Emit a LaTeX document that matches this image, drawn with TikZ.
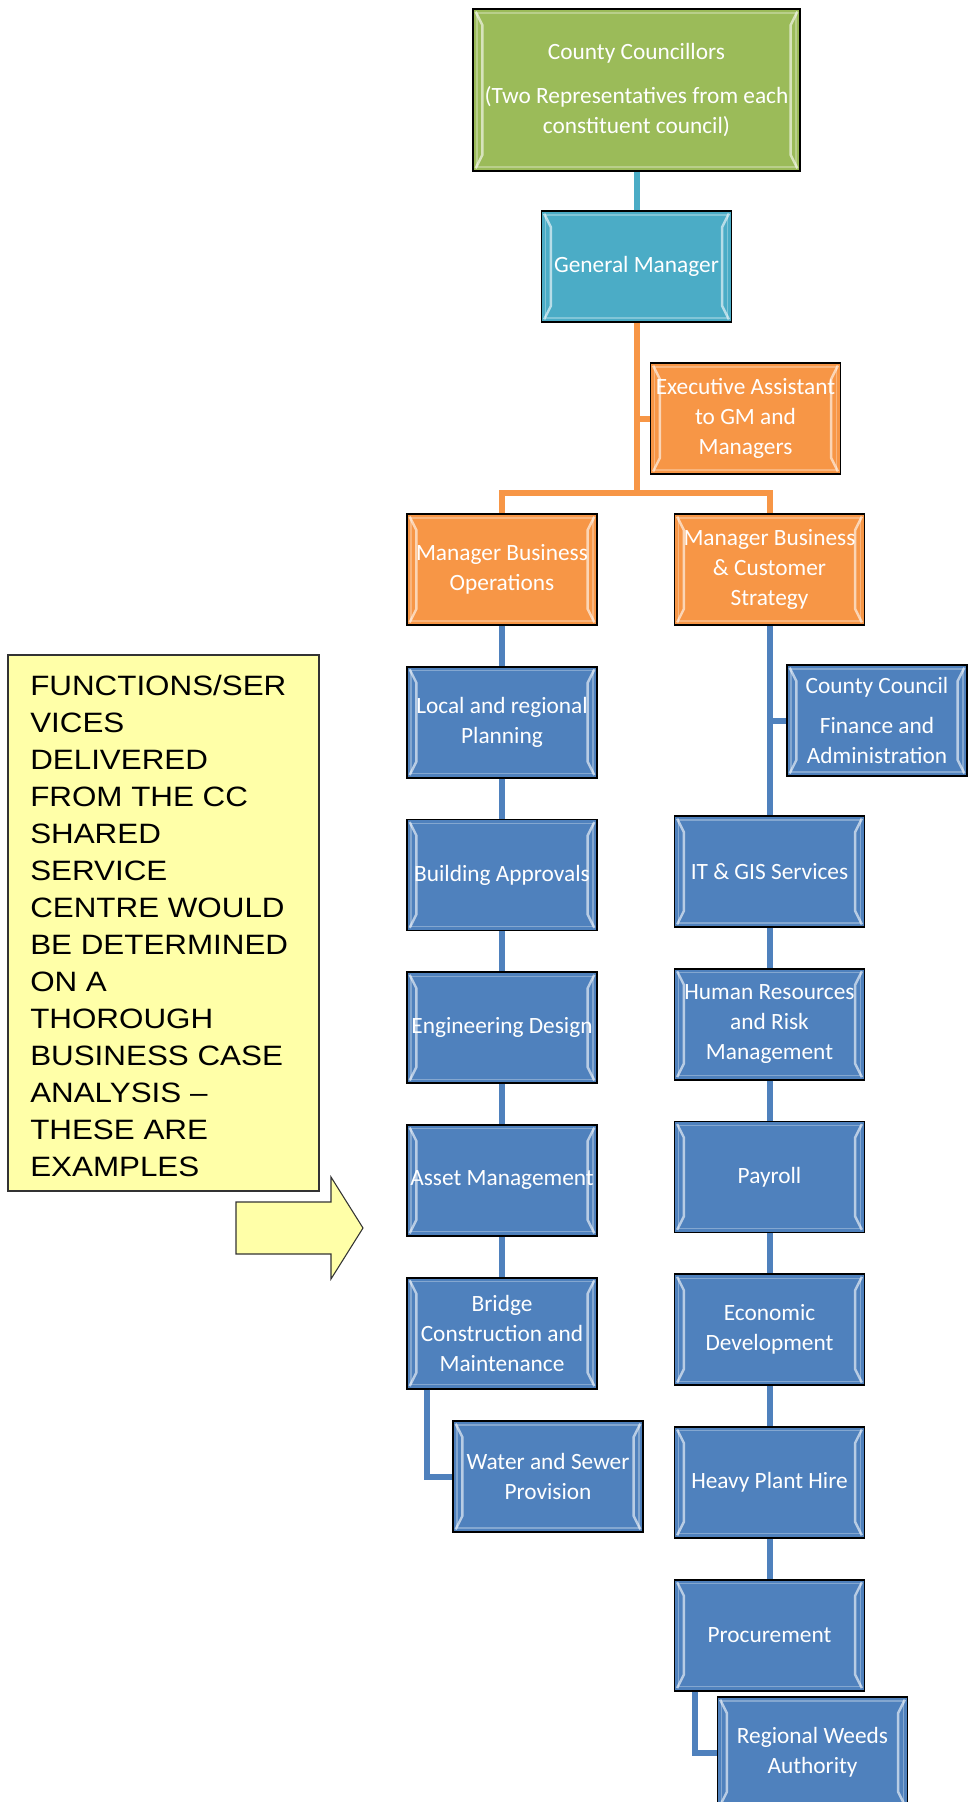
\documentclass[tikz,border=0pt]{standalone}
\usepackage{fontspec}
\setmainfont{Liberation Sans}
\newfontfamily\boxfont{Carlito}
\newfontfamily\notefont[FakeStretch=1.12]{Liberation Sans}
\usetikzlibrary{positioning}
\definecolor{boxgreen}{HTML}{9BBB59}
\definecolor{boxteal}{HTML}{4BACC6}
\definecolor{boxorange}{HTML}{F79646}
\definecolor{boxblue}{HTML}{4F81BD}
\definecolor{noteyellow}{HTML}{FFFFA8}

\begin{document}
\begin{tikzpicture}[
		x=0.75pt, y=-0.75pt,
		node distance=30pt,
		unit/.style={
			draw=black,
			line width=1.3pt,
			fill=boxblue,
			text=white,
			font=\boxfont\fontsize{17.5}{22.5}\selectfont,
			align=center,
			inner sep=0pt,
			minimum width=142.5pt,
			minimum height=83.25pt,
			path picture={
				\draw[white, opacity=.3, line width=.8pt]
					([shift={(3pt,-3pt)}]path picture bounding box.north west)
					rectangle ([shift={(-3pt,3pt)}]path picture bounding box.south east);
				\draw[white, opacity=.6, line width=1.8pt]
					([shift={(2pt,-2pt)}]path picture bounding box.north west)
					-- ([shift={(7pt,-12pt)}]path picture bounding box.north west)
					-- ([shift={(7pt,12pt)}]path picture bounding box.south west)
					-- ([shift={(2pt,2pt)}]path picture bounding box.south west);
				\draw[white, opacity=.6, line width=1.8pt]
					([shift={(-2pt,-2pt)}]path picture bounding box.north east)
					-- ([shift={(-7pt,-12pt)}]path picture bounding box.north east)
					-- ([shift={(-7pt,12pt)}]path picture bounding box.south east)
					-- ([shift={(-2pt,2pt)}]path picture bounding box.south east);
			}
		},
		council/.style={unit, fill=boxgreen, minimum width=245.25pt, minimum height=121.5pt},
		chief/.style={unit, fill=boxteal},
		mgr/.style={unit, fill=boxorange},
		link/.style={line width=4.5pt},
		notebox/.style={
			draw=black!80,
			line width=.8pt,
			fill=noteyellow,
			inner sep=0pt,
			minimum width=233.25pt,
			minimum height=402pt
		},
		notetext/.style={
			font=\notefont\fontsize{21}{27.75}\selectfont,
			align=left,
			inner sep=0pt,
			anchor=north west
		}
	]
		\useasboundingbox (0,0) rectangle (968,1802);

		% top of the tree
		\node[council] (councillors) at (636.5,90)
			{County Councillors\\[10.5pt](Two Representatives from each\\constituent council)};
		\node[chief] (gm) at (636.5,266.5) {General Manager};
		\node[mgr] (assistant) at (745.5,418.5)
			{Executive Assistant\\to GM and\\Managers};
		\node[mgr] (operations) at (502,569.5)
			{Manager Business\\Operations};
		\node[mgr] (strategy) at (769.5,569.5)
			{Manager Business\\\& Customer\\Strategy};
		\coordinate (bus) at (636.5,493);

		% operations column
		\node[unit, below=of operations] (planning)
			{Local and regional\\Planning};
		\node[unit, below=of planning] (approvals) {Building Approvals};
		\node[unit, below=of approvals] (engineering) {Engineering Design};
		\node[unit, below=of engineering] (assets) {Asset Management};
		\node[unit, below=of assets] (bridges)
			{Bridge\\Construction and\\Maintenance};
		\node[unit] (water) at (548,1476.5)
			{Water and Sewer\\Provision};

		% strategy column
		\node[unit, minimum width=135pt] (finance) at (877,720.5)
			{County Council\\[7.5pt]Finance and\\Administration};
		\node[unit] (itgis) at (769.5,871.5) {IT \& GIS Services};
		\node[unit, below=of itgis] (hr)
			{Human Resources\\and Risk\\Management};
		\node[unit, below=of hr] (payroll) {Payroll};
		\node[unit, below=of payroll] (economic)
			{Economic\\Development};
		\node[unit, below=of economic] (plant) {Heavy Plant Hire};
		\node[unit, below=of plant] (procurement) {Procurement};
		\node[unit] (weeds) at (812.5,1752.5)
			{Regional Weeds\\Authority};

		% links
		\draw[link, boxteal] (councillors) -- (gm);
		\draw[link, boxorange] (gm.south) -- (bus);
		\draw[link, boxorange] (gm.south |- assistant.west) -- (assistant.west);
		\draw[link, boxorange, line join=miter] (operations.north) |- (bus) -| (strategy.north);

		\draw[link, boxblue] (operations) -- (planning);
		\draw[link, boxblue] (planning) -- (approvals);
		\draw[link, boxblue] (approvals) -- (engineering);
		\draw[link, boxblue] (engineering) -- (assets);
		\draw[link, boxblue] (assets) -- (bridges);
		\draw[link, boxblue] ([xshift=-56.25pt]bridges.south) |- (water.west);

		\draw[link, boxblue] (strategy) -- (itgis);
		\draw[link, boxblue] (strategy.south |- finance.west) -- (finance.west);
		\draw[link, boxblue] (itgis) -- (hr);
		\draw[link, boxblue] (hr) -- (payroll);
		\draw[link, boxblue] (payroll) -- (economic);
		\draw[link, boxblue] (economic) -- (plant);
		\draw[link, boxblue] (plant) -- (procurement);
		\draw[link, boxblue] ([xshift=-56pt]procurement.south) |- (weeds.west);

		% side note
		\node[notebox] (note) at (163.5,923) {};
		\node[notetext] (notetext) at (30,675)
			{FUNCTIONS/SER\\VICES\\DELIVERED\\FROM THE CC\\SHARED\\SERVICE\\CENTRE WOULD\\BE DETERMINED\\ON A\\THOROUGH\\BUSINESS CASE\\ANALYSIS –\\THESE ARE\\EXAMPLES};
		\draw[draw=black!80, line width=.8pt, fill=noteyellow]
			(236,1202) -- (331,1202) -- (331,1177) -- (363,1228)
			-- (331,1279) -- (331,1254) -- (236,1254) -- cycle;
	\end{tikzpicture}
\end{document}
